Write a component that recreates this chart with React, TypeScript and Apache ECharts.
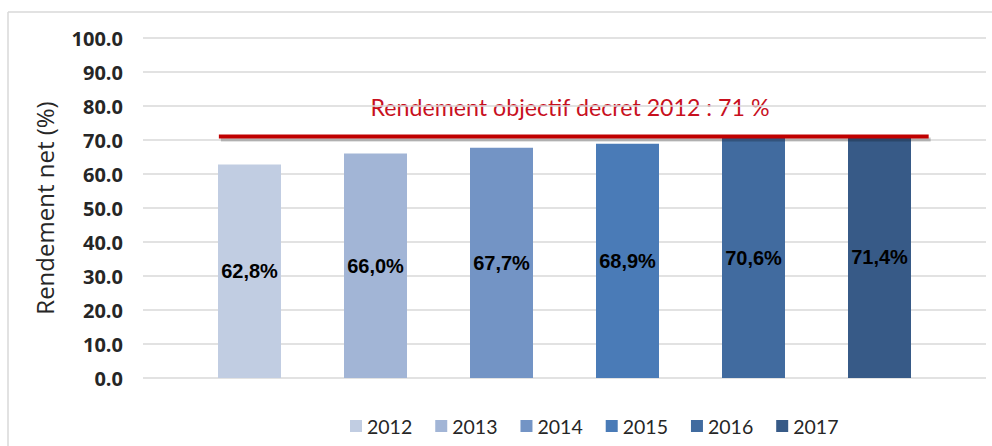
import React, { useEffect, useRef } from "react";
import * as echarts from "echarts";

const years = ["2012", "2013", "2014", "2015", "2016", "2017"];
const rendements = [62.8, 66.0, 67.7, 68.9, 70.6, 71.4];
const barColors = ["#C1CDE2", "#A2B5D6", "#7394C5", "#4A7BB7", "#416B9F", "#375A87"];
const objectif = 71;
const objectifLabel = "Rendement objectif decret 2012 : 71 %";
const yAxisName = "Rendement net (%)";
// horizontal extent of the target line, as fractions of the plot width
const objectifSpan = [0.09, 0.932];

export default function App() {
  const ref = useRef<HTMLDivElement>(null);
  useEffect(() => {
    if (!ref.current) return;
    const chart = echarts.init(ref.current, undefined, { renderer: "svg" });
    const barSeries = years.map((y, i) => ({
      name: y,
      type: "bar",
      xAxisIndex: 0,
      data: [rendements[i]],
      barWidth: 63,
      barGap: "100%",
      itemStyle: { color: barColors[i] },
      label: {
        show: true,
        position: "inside",
        formatter: (p: any) => p.value.toFixed(1).replace(".", ",") + "%",
        color: "#000",
        fontFamily: "Liberation Sans",
        fontWeight: "bold",
        fontSize: 20,
      },
    }));
    chart.setOption({
      animation: false,
      backgroundColor: "#fff",
      grid: { left: 143, right: 6, top: 38, bottom: 68, containLabel: false },
      xAxis: [
        {
          type: "category",
          data: [""],
          axisLine: { show: false },
          axisTick: { show: false },
          axisLabel: { show: false },
        },
        { type: "value", min: 0, max: 1, show: false },
      ],
      yAxis: {
        type: "value",
        min: 0,
        max: 100,
        interval: 10,
        name: yAxisName,
        nameLocation: "middle",
        nameGap: 87,
        nameRotate: 90,
        nameTextStyle: { fontFamily: "Open Sans", fontSize: 24, color: "#262626" },
        axisLine: { show: false },
        axisTick: { show: false },
        axisLabel: {
          formatter: (v: number) => v.toFixed(1),
          fontFamily: "Open Sans",
          fontWeight: "bold",
          fontSize: 20,
          color: "#262626",
          margin: 20,
        },
        splitLine: { lineStyle: { color: "#D9D9D9", width: 1.5 } },
      },
      legend: {
        data: years,
        left: 345,
        top: 411,
        itemWidth: 12,
        itemHeight: 12,
        itemGap: 23,
        icon: "rect",
        textStyle: { fontFamily: "Lato", fontSize: 19.5, color: "#262626" },
      },
      series: [
        ...barSeries,
        {
          name: "objectif",
          type: "custom",
          xAxisIndex: 1,
          data: [[objectifSpan[0], objectifSpan[1], objectif]],
          encode: { x: [0, 1], y: 2 },
          z: 5,
          renderItem: (params: any, api: any) => {
            const p0 = api.coord([api.value(0), api.value(2)]);
            const p1 = api.coord([api.value(1), api.value(2)]);
            return {
              type: "group",
              children: [
                {
                  type: "line",
                  shape: { x1: p0[0] + 2, y1: p0[1] + 3, x2: p1[0] + 2, y2: p1[1] + 3 },
                  style: { stroke: "rgba(0,0,0,0.22)", lineWidth: 4 },
                },
                {
                  type: "line",
                  shape: { x1: p0[0], y1: p0[1], x2: p1[0], y2: p1[1] },
                  style: { stroke: "#C00000", lineWidth: 4 },
                },
              ],
            };
          },
        },
      ],
      graphic: [
        {
          type: "line",
          shape: { x1: 8, y1: 12, x2: 992, y2: 12 },
          style: { stroke: "#D9D9D9", lineWidth: 1.5 },
        },
        {
          type: "line",
          shape: { x1: 8, y1: 12, x2: 8, y2: 446 },
          style: { stroke: "#D9D9D9", lineWidth: 1.5 },
        },
        {
          type: "text",
          x: 570,
          y: 107,
          style: {
            text: objectifLabel,
            fontFamily: "Lato",
            fontSize: 23.2,
            fill: "#C8101E",
            align: "center",
            verticalAlign: "middle",
          },
        },
      ],
    });
    return () => chart.dispose();
  }, []);
  return (
    <div
      ref={ref}
      style={{ position: "fixed", left: 0, top: 0, width: 992, height: 446, background: "#fff" }}
    />
  );
}
